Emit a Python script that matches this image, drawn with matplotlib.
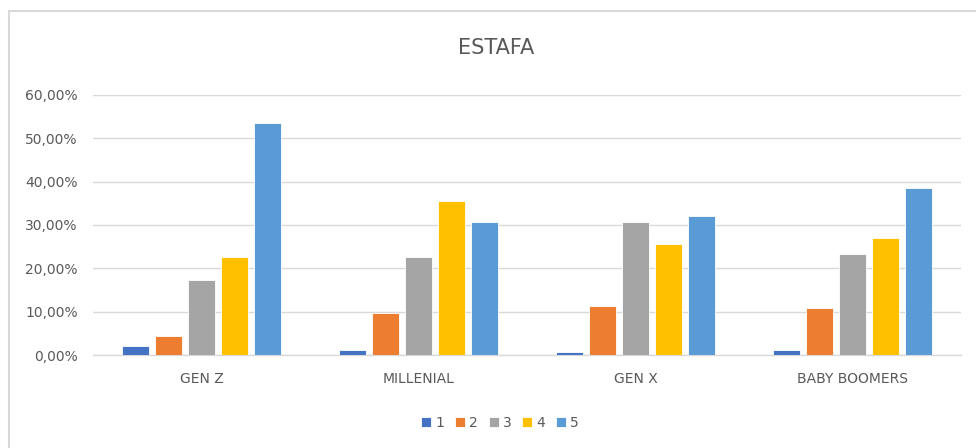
import numpy as np
import matplotlib.pyplot as plt
from matplotlib.patches import Rectangle
from matplotlib.ticker import FuncFormatter

plt.rcParams['font.family'] = ['DejaVu Sans']

categories = ['GEN Z', 'MILLENIAL', 'GEN X', 'BABY BOOMERS']
series_names = ['1', '2', '3', '4', '5']
values = {
    '1': [2.0, 1.1, 0.6, 1.1],
    '2': [4.3, 9.8, 11.2, 10.8],
    '3': [17.2, 22.7, 30.6, 23.3],
    '4': [22.7, 35.6, 25.6, 26.9],
    '5': [53.6, 30.6, 32.0, 38.5],
}
colors = ['#4472C4', '#ED7D31', '#A5A5A5', '#FFC000', '#5B9BD5']

fig = plt.figure(figsize=(9.76, 4.48), dpi=100)
# light frame around the chart area
fig.patches.append(Rectangle((9 / 976, -0.1), 1.2, (448 - 11) / 448 + 0.1,
                             transform=fig.transFigure, fill=False,
                             edgecolor='#d9d9d9', linewidth=1.5))

ax = fig.add_axes([93 / 976, (448 - 355) / 448, (961 - 93) / 976, (355 - 95) / 448])

x = np.arange(len(categories))
pitch = 0.152
width = 0.122
for i, name in enumerate(series_names):
    offs = (i - 2) * pitch
    ax.bar(x + offs, values[name], width, color=colors[i], label=name,
           edgecolor='white', linewidth=0.6, zorder=3)

ax.set_xlim(-0.5, len(categories) - 0.5)
ax.set_ylim(0, 60)
ax.set_yticks(np.arange(0, 61, 10))
ax.yaxis.set_major_formatter(FuncFormatter(lambda v, p: f'{v:.2f}%'.replace('.', ',')))
ax.set_xticks(x)
ax.set_xticklabels(categories)
ax.grid(axis='y', color='#d9d9d9', linewidth=1.0, zorder=0)
for s in ['top', 'right', 'left']:
    ax.spines[s].set_visible(False)
ax.spines['bottom'].set_color('#d9d9d9')
ax.spines['bottom'].set_linewidth(1.0)
ax.tick_params(axis='both', length=0, colors='#595959', labelsize=10)
ax.tick_params(axis='x', pad=12)
ax.tick_params(axis='y', pad=11)

fig.text(496 / 976, (448 - 48) / 448, 'ESTAFA', ha='center', va='center',
         fontsize=15, color='#595959')

fig.legend(loc='center', bbox_to_anchor=(500 / 976, (448 - 423) / 448), ncol=5,
           frameon=False, fontsize=10, labelcolor='#595959',
           handlelength=0.72, handleheight=0.72, handletextpad=0.3, columnspacing=0.77)

fig.savefig('out.png', dpi=100)
